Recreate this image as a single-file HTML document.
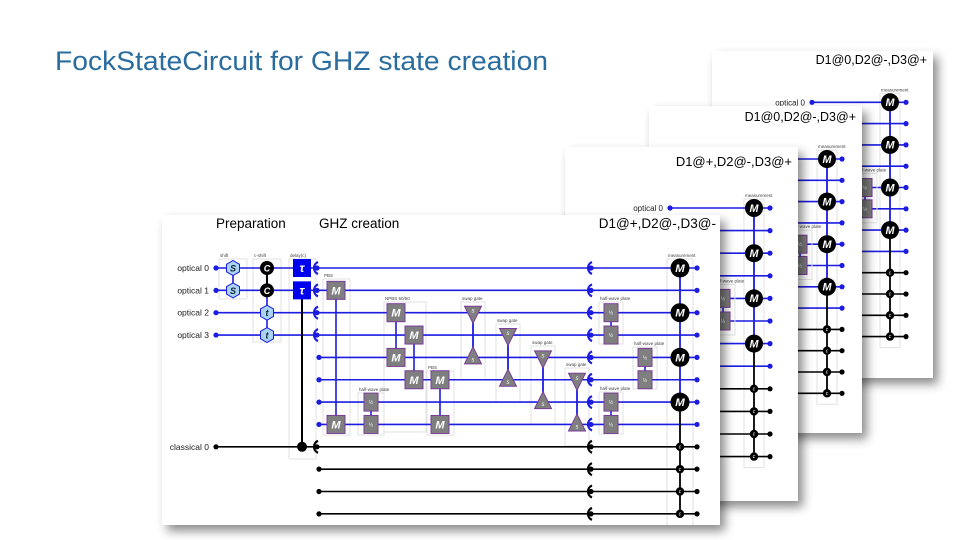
<!DOCTYPE html>
<html><head><meta charset="utf-8"><style>
html,body{margin:0;padding:0;background:#fff;}
svg{display:block;}
text{font-family:"Liberation Sans","DejaVu Sans",sans-serif;}
</style></head><body>
<svg id="s" width="960" height="540" viewBox="0 0 960 540" xmlns="http://www.w3.org/2000/svg">
<defs>
<filter id="sh" x="-10%" y="-10%" width="130%" height="130%">
<feDropShadow dx="5" dy="6" stdDeviation="5" flood-color="#000" flood-opacity="0.45"/>
</filter>
</defs>
<text x="55" y="70" font-size="27" fill="#2a6c9e" textLength="493" lengthAdjust="spacingAndGlyphs">FockStateCircuit for GHZ state creation</text>
<g id="g"></g>
</svg>
<script>
const B='#1c1ce0',K='#000',GR='#7f7f7f',PU='#7a3c98';
let o='';
function A(s){o+=s;}
function line(x1,y1,x2,y2,c,w){A(`<line x1="${x1}" y1="${y1}" x2="${x2}" y2="${y2}" stroke="${c}" stroke-width="${w||1.6}"/>`);}
function dot(x,y,c,r){A(`<circle cx="${x}" cy="${y}" r="${r||2.6}" fill="${c}"/>`);}
function txt(x,y,s,sz,anc,fill,extra){A(`<text x="${x}" y="${y}" font-size="${sz}" text-anchor="${anc||'start'}" fill="${fill||'#000'}" ${extra||''}>${s}</text>`);}
function gbox(x,y,w,h,label){A(`<rect x="${x}" y="${y}" width="${w}" height="${h}" fill="none" stroke="#e2e2e2" stroke-width="1"/>`);if(label)txt(x+1,y-2,label,4.5,'start','#444');}
function Mb(x,y,r){r=r||9;A(`<circle cx="${x}" cy="${y}" r="${r}" fill="#000"/>`);txt(x,y+r*0.42,'M',r*1.2,'middle','#fff','font-style="italic" font-weight="bold"');}
function cn(x,y){A(`<circle cx="${x}" cy="${y}" r="4.2" fill="#000"/>`);txt(x,y+1.6,'c',5,'middle','#fff','font-style="italic"');}
function gM(x,y){A(`<rect x="${x-9}" y="${y-9}" width="18" height="18" fill="${GR}" stroke="${PU}" stroke-width="1"/>`);txt(x,y+4,'M',11,'middle','#fff','font-style="italic" font-weight="bold"');}
function hw(x,y){A(`<rect x="${x-7}" y="${y-9}" width="14" height="18" fill="${GR}" stroke="${PU}" stroke-width="1"/>`);txt(x,y+2,'½',5,'middle','#fff');}
function det(x,y,c){A(`<path d="M${x+5} ${y-6} A6.5 6.5 0 0 0 ${x+5} ${y+6}" fill="none" stroke="${c}" stroke-width="2.2"/>`);dot(x+4,y,c,2.6);}
function tri(x,y,down){const h=17,w=17;let d=down?`M${x-w/2} ${y-h/2+2} L${x+w/2} ${y-h/2+2} L${x} ${y+h/2+2}Z`:`M${x-w/2} ${y+h/2-2} L${x+w/2} ${y+h/2-2} L${x} ${y-h/2-2}Z`;A(`<path d="${d}" fill="${GR}" stroke="${PU}" stroke-width="1"/>`);txt(x,y+(down?0:4),'s',6,'middle','#fff','font-style="italic"');}
function hex(x,y,l){let p=[];for(let i=0;i<6;i++){let a=Math.PI/6+i*Math.PI/3;p.push((x+7.5*Math.cos(a)).toFixed(1)+','+(y+7.5*Math.sin(a)).toFixed(1));}A(`<polygon points="${p.join(' ')}" fill="#a9d4f5" stroke="${B}" stroke-width="1"/>`);txt(x,y+3.5,l,9,'middle','#123','font-style="italic" font-weight="bold"');}
function card(x,y,w,h){A(`<rect x="${x}" y="${y}" width="${w}" height="${h}" fill="#fff" filter="url(#sh)"/>`);}
function clip(id,x,y,w,h){A(`<clipPath id="${id}"><rect x="${x}" y="${y}" width="${w}" height="${h}"/></clipPath>`);}

function back(id,cx,cy,cw,ch,title,ty,tsz,r0,st,mx,dx,optLabel,hwx){
  card(cx,cy,cw,ch);clip(id,cx,cy,cw,ch);A(`<g clip-path="url(#${id})">`);
  const r=i=>r0+st*i;
  txt(cx+cw-6,ty,title,tsz,'end');
  gbox(mx-10,r(0)-9,20,r(11)-r(0)+20,'measurement');
  for(let i=0;i<12;i++){let c=i<8?B:K;let xs=cx;if(i==0&&optLabel){xs=optLabel;txt(optLabel-7,r(0)+3,'optical 0',8,'end','#222');dot(optLabel,r(0),B);}line(xs,r(i),dx,r(i),c);dot(dx,r(i),c);}
  if(hwx){gbox(hwx-10,r(4)-14,22,st+28,'half-wave plate');line(hwx,r(4),hwx,r(5),B);hw(hwx,r(4));hw(hwx,r(5));}
  line(mx,r(0),mx,r(6),B,1.8);line(mx,r(6),mx,r(11),K,1.8);
  [0,2,4,6].forEach(i=>Mb(mx,r(i)));for(let i=8;i<12;i++)cn(mx,r(i));
  A('</g>');
}
back('c4',712,51,221,327,'D1@0,D2@-,D3@+',64,12.5,102.3,21.3,890,906,812,865);
back('c3',649,106,213,327,'D1@0,D2@-,D3@+',121,12.5,159,21.3,827,842,null,800);
back('c2',565,147,233,354,'D1@+,D2@-,D3@+',166,13,208,22.6,754,770,670,723);

card(162,215,558,310);clip('c1',162,215,558,310);A('<g clip-path="url(#c1)">');
const R=i=>268+22.35*i;
txt(216,228,'Preparation',13.5);txt(319,228,'GHZ creation',13.5);txt(716,228,'D1@+,D2@-,D3@-',13.5,'end');
gbox(219,259,28,40,'shift');gbox(253,259,28,83,'c-shift');gbox(289,259,27,200,'delay(c)');
gbox(323,279,27,156,'PBS');gbox(384,302,42,130,'NPBS 50/50');gbox(358,393,26,42,'half-wave plate');
gbox(427,371,27,64,'PBS');
gbox(461,302,24,78,'swap gate');gbox(496,324,24,78,'swap gate');gbox(531,346,24,78,'swap gate');gbox(565,368,24,78,'swap gate');
gbox(599,302,24,42,'half-wave plate');gbox(633,347,24,42,'half-wave plate');gbox(599,392,24,42,'half-wave plate');
gbox(667,259,26,270,'measurement');
for(let i=0;i<12;i++){let c=i<8?B:K;let labeled=(i<4||i==8);let xs=labeled?216:319;
 if(labeled){txt(209,R(i)+3,i==8?'classical 0':'optical '+i,8.5,'end','#222');dot(216,R(i),c);} else dot(319,R(i),c);
 line(xs,R(i),697,R(i),c);dot(697,R(i),c);}
line(233,R(0),233,R(1),B);hex(233,R(0),'S');hex(233,R(1),'S');
line(267,R(0),267,R(3),B);line(267,R(0),267,R(1),K,2);
[0,1].forEach(i=>{A(`<circle cx="267" cy="${R(i)}" r="7" fill="#000"/>`);txt(267,R(i)+3.5,'C',9,'middle','#fff','font-style="italic" font-weight="bold"');});
hex(267,R(2),'t');hex(267,R(3),'t');
line(302,R(1),302,R(8),K,2);dot(302,R(8),K,5);
[0,1].forEach(i=>{A(`<rect x="293" y="${R(i)-9}" width="18" height="18" fill="#0000ee"/>`);txt(302,R(i)+4,'τ',12,'middle','#fff','font-style="italic" font-weight="bold"');});
[0,1,2,3,8].forEach(i=>det(313,R(i),i<8?B:K));
line(336,R(1),336,R(7),B);gM(336,R(1));gM(336,R(7));
line(396,R(2),396,R(4),B);line(414,R(3),414,R(5),B);gM(396,R(2));gM(414,R(3));gM(396,R(4));gM(414,R(5));
line(371,R(6),371,R(7),B);hw(371,R(6));hw(371,R(7));
line(440,R(5),440,R(7),B);gM(440,R(5));gM(440,R(7));
[[473,2,4],[508,3,5],[543,4,6],[577,5,7]].forEach(([x,a,b])=>{line(x,R(a),x,R(b),B,1.8);tri(x,R(a),true);tri(x,R(b),false);});
for(let i=0;i<12;i++)det(587,R(i),i<8?B:K);
[[611,2],[645,4],[611,6]].forEach(([x,a])=>{line(x,R(a),x,R(a+1),B);hw(x,R(a));hw(x,R(a+1));});
line(680,R(0),680,R(6),B,1.8);line(680,R(6),680,R(11),K,1.8);
[0,2,4,6].forEach(i=>Mb(680,R(i),9.5));for(let i=8;i<12;i++)cn(680,R(i));
A('</g>');
document.getElementById('g').innerHTML=o;
</script>
</body></html>
